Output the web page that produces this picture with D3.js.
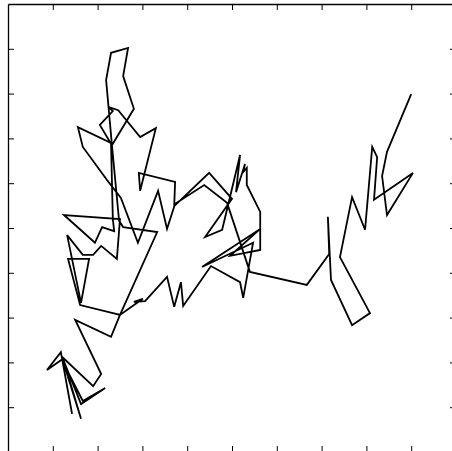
<!DOCTYPE html>
<html><head><meta charset="utf-8">
<script src="https://cdn.jsdelivr.net/npm/d3@7"></script>
<style>html,body{margin:0;padding:0;background:#fff;overflow:hidden}</style>
</head><body>
<svg id="c" width="452" height="451"></svg>
<script>
const xValues = [1.43,1.18,0.87,1.23,1.63,1.25,1.67,2.17,1.63,1.21,1.90,2.08,1.50,2.30,2.50,1.61,1.34,1.81,1.63,1.32,
1.67,1.90,2.08,2.43,2.50,1.25,1.94,2.10,2.37,2.34,2.30,2.05,2.34,2.25,2.46,2.95,3.30,2.95,2.92,3.73,
3.71,4.49,5.00,4.40,4.78,5.18,5.09,5.29,5.25,5.33,5.33,5.63,5.63,4.96,5.63,4.33,5.47,5.25,5.18,4.53,
3.91,3.86,3.71,3.55,3.06,2.81,3.01,2.50,3.33,2.57,2.48,2.32,2.19,2.30,2.68,2.57,2.81,2.34,1.56,1.67,
2.21,2.52,2.90,3.35,3.55,3.73,4.38,4.89,5.40,6.67,7.17,7.14,7.21,7.68,8.08,7.41,7.68,7.97,8.13,8.24,
8.17,9.04,8.46,8.35,8.46,9.00];
const yValues = [0.85,2.23,1.83,2.08,0.74,1.96,1.14,1.43,1.07,2.12,1.47,1.74,2.95,2.57,3.06,3.28,4.31,4.31,3.33,4.84,
4.40,4.40,4.60,4.31,5.20,5.29,4.67,5.02,4.93,5.20,6.88,7.30,7.61,7.70,7.63,7.03,7.23,5.83,6.23,6.03,
5.49,6.23,5.65,4.80,4.96,6.63,5.80,6.43,6.25,6.34,5.96,5.36,4.51,4.38,4.98,4.13,4.67,3.44,3.79,4.15,
3.26,3.79,3.24,3.91,3.37,3.35,3.42,3.06,4.91,5.02,5.16,6.85,8.30,8.91,9.02,8.39,7.66,6.88,7.25,6.81,
6.07,5.67,4.67,5.83,4.98,5.54,5.96,5.56,4.02,3.73,4.42,5.25,3.84,2.83,3.10,4.35,5.69,4.96,6.81,6.58,
5.63,6.23,5.29,6.16,6.70,7.99];
const tickValues = [1,2,3,4,5,6,7,8,9];

const svg = d3.select("#c");
const x = d3.scaleLinear().domain([0,10]).range([8,456]);
const y = d3.scaleLinear().domain([0,10]).range([452,4]);

function styleAxis(g){
  g.selectAll("path.domain").attr("stroke","#000").attr("stroke-width",1.3);
  g.selectAll(".tick line").attr("stroke","#000").attr("stroke-width",1);
  g.selectAll("text").remove();
}
svg.append("g").attr("transform","translate(0,4)")
  .call(d3.axisTop(x).tickValues(tickValues).tickSize(-6).tickSizeOuter(0).tickFormat(""))
  .call(styleAxis);
svg.append("g").attr("transform","translate(0,452)")
  .call(d3.axisBottom(x).tickValues(tickValues).tickSize(-6).tickSizeOuter(0).tickFormat(""))
  .call(styleAxis);
svg.append("g").attr("transform","translate(8,0)")
  .call(d3.axisLeft(y).tickValues(tickValues).tickSize(-6).tickSizeOuter(0).tickFormat(""))
  .call(styleAxis);
svg.append("g").attr("transform","translate(456,0)")
  .call(d3.axisRight(y).tickValues(tickValues).tickSize(-6).tickSizeOuter(0).tickFormat(""))
  .call(styleAxis);

const pts = xValues.map((v,i)=>[v,yValues[i]]);
svg.append("path")
  .datum(pts)
  .attr("fill","none")
  .attr("stroke","#000")
  .attr("stroke-width",1.8)
  .attr("stroke-linejoin","miter")
  .attr("d", d3.line().x(d=>x(d[0])).y(d=>y(d[1])));
</script>
</body></html>
